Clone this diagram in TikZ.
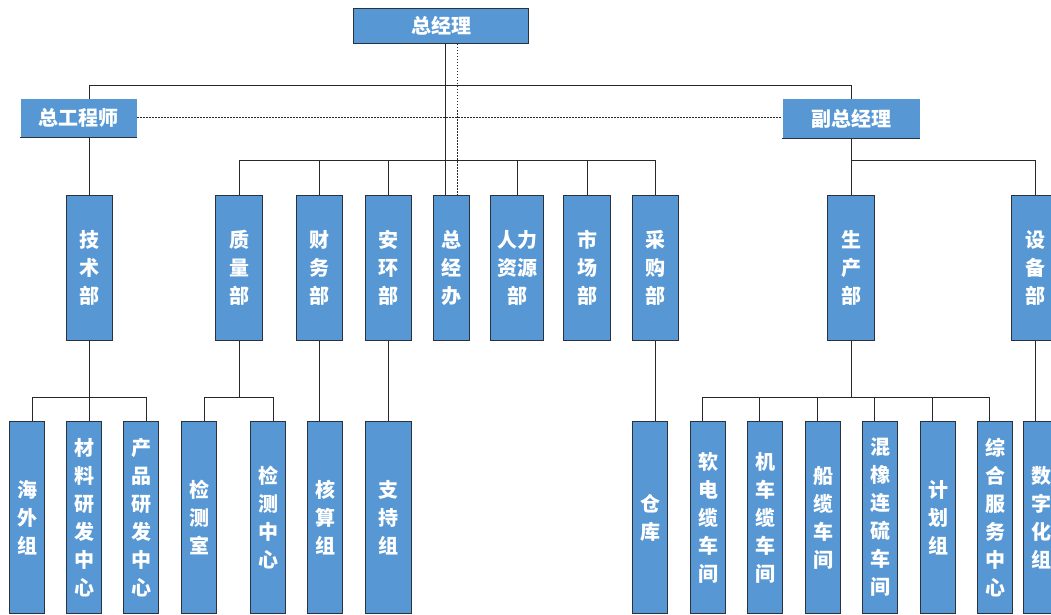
\documentclass[tikz,border=0pt]{standalone}
\usepackage{fontspec}
\newfontfamily\cjk{Noto Sans CJK SC}
\definecolor{boxblue}{RGB}{86,151,212}
\definecolor{edgedark}{RGB}{42,50,62}
\definecolor{linkgray}{RGB}{40,40,40}

\begin{document}
\begin{tikzpicture}[x=1pt,y=-1pt,
  unit/.style={fill=boxblue, draw=edgedark, line width=1pt, text=white,
    font=\cjk\bfseries\fontsize{20}{28}\selectfont, align=center,
    inner sep=0pt, anchor=north west},
  lead/.style={unit, draw=none},
  dept/.style={unit, minimum height=145pt},
  team/.style={unit, minimum height=192pt},
  link/.style={draw=linkgray, line width=1pt},
  dotlink/.style={draw=linkgray, line width=1pt, dash pattern=on 1.5pt off 1.5pt}
]
\clip (0,0) rectangle (1051,615);
\fill[white] (0,0) rectangle (1051,615);

% helper coordinates: horizontal bus levels and vertical tracks
\coordinate (busTop) at (0,86);
\coordinate (busMid) at (0,160);
\coordinate (busLow) at (0,397);
\coordinate (spine) at (445,0);
\coordinate (spineDot) at (457,0);
\coordinate (trackCE) at (89,0);

% leadership
\node[unit, minimum width=175pt, minimum height=35pt] (gm) at (353,8) {总经理};
\node[lead, minimum width=116pt, minimum height=37pt] (ce) at (20,99) {总工程师};
\node[lead, minimum width=137pt, minimum height=38pt] (dgm) at (782,99) {副总经理};
\draw[edgedark, line width=1pt] (ce.south west) -- (ce.south east);
\draw[edgedark, line width=1pt] (dgm.south west) -- (dgm.south east);

% departments
\node[dept, minimum width=46pt] (tech)   at (66,195)   {技\\术\\部};
\node[dept, minimum width=47pt] (qual)   at (215,195)  {质\\量\\部};
\node[dept, minimum width=46pt] (fin)    at (296,195)  {财\\务\\部};
\node[dept, minimum width=46pt] (safe)   at (365,195)  {安\\环\\部};
\node[dept, minimum width=36pt] (office) at (433,195)  {总\\经\\办};
\node[dept, minimum width=53pt] (hr)     at (490,195)  {人力\\资源\\部};
\node[dept, minimum width=47pt] (mkt)    at (563,195)  {市\\场\\部};
\node[dept, minimum width=46pt] (buy)    at (632,195)  {采\\购\\部};
\node[dept, minimum width=47pt] (prod)   at (827,195)  {生\\产\\部};
\node[dept, minimum width=47pt] (equip)  at (1011,195) {设\\备\\部};

% teams
\node[team, minimum width=35pt] (hw)    at (9,421)    {海\\外\\组};
\node[team, minimum width=35pt] (mat)   at (66,421)   {材\\料\\研\\发\\中\\心};
\node[team, minimum width=35pt] (prd)   at (123,421)  {产\\品\\研\\发\\中\\心};
\node[team, minimum width=35pt] (lab)   at (181,421)  {检\\测\\室};
\node[team, minimum width=35pt] (labc)  at (250,421)  {检\\测\\中\\心};
\node[team, minimum width=35pt] (acct)  at (307,421)  {核\\算\\组};
\node[team, minimum width=46pt] (sup)   at (365,421)  {支\\持\\组};
\node[team, minimum width=35pt] (store) at (632,421)  {仓\\库};
\node[team, minimum width=35pt] (c1)    at (690,421)  {软\\电\\缆\\车\\间};
\node[team, minimum width=35pt] (c2)    at (747,421)  {机\\车\\缆\\车\\间};
\node[team, minimum width=35pt] (c3)    at (805,421)  {船\\缆\\车\\间};
\node[team, minimum width=35pt] (c4)    at (862,421)  {混\\橡\\连\\硫\\车\\间};
\node[team, minimum width=35pt] (plan)  at (920,421)  {计\\划\\组};
\node[team, minimum width=35pt] (svc)   at (977,421)  {综\\合\\服\\务\\中\\心};
\node[team, minimum width=35pt] (dig)   at (1023,421) {数\\字\\化\\组};

% general manager to office, with the dotted direct line
\draw[link] (gm.south -| spine) -- (office.north -| spine);
\draw[dotlink] (gm.south -| spineDot) -- (office.north -| spineDot);

% top bus to chief engineer and deputy general manager
\draw[link] (ce.north -| trackCE) |- (busTop -| dgm.north) -- (dgm.north);
\draw[dotlink] (ce.east) -- (ce.east -| dgm.west);

% chief engineer to technology department
\draw[link] (ce.south -| tech.north) -- (tech.north);

% middle bus to functional departments
\draw[link] (qual.north) -- (qual.north |- busMid) -- (buy.north |- busMid) -- (buy.north);
\foreach \n in {fin,safe,hr,mkt}
  \draw[link] (\n.north) -- (\n.north |- busMid);

% deputy general manager to production and equipment
\draw[link] (dgm.south) -- (prod.north);
\draw[link] (prod.north |- busMid) -- (equip.north |- busMid) -- (equip.north);

% technology department teams
\draw[link] (tech.south) -- (tech.south |- mat.north);
\draw[link] ([xshift=5.5pt]hw.north) |- ([xshift=5.5pt]prd.north |- busLow) -- ([xshift=5.5pt]prd.north);

% quality department teams
\draw[link] (qual.south) -- (qual.south |- busLow);
\draw[link] ([xshift=5.5pt]lab.north) |- ([xshift=5.5pt]labc.north |- busLow) -- ([xshift=5.5pt]labc.north);

% single teams
\draw[link] (fin.south) -- (fin.south |- acct.north);
\draw[link] (safe.south) -- (sup.north);
\draw[link] (buy.south) -- (buy.south |- store.north);
\draw[link] (equip.south) -- (equip.south |- dig.north);

% production workshops
\draw[link] (prod.south) -- (prod.south |- busLow);
\draw[link] ([xshift=-6pt]c1.north) |- ([xshift=-6pt]svc.north |- busLow) -- ([xshift=-6pt]svc.north);
\foreach \n in {c2,c3,c4,plan}
  \draw[link] ([xshift=-6pt]\n.north) -- ([xshift=-6pt]\n.north |- busLow);
\end{tikzpicture}
\end{document}
